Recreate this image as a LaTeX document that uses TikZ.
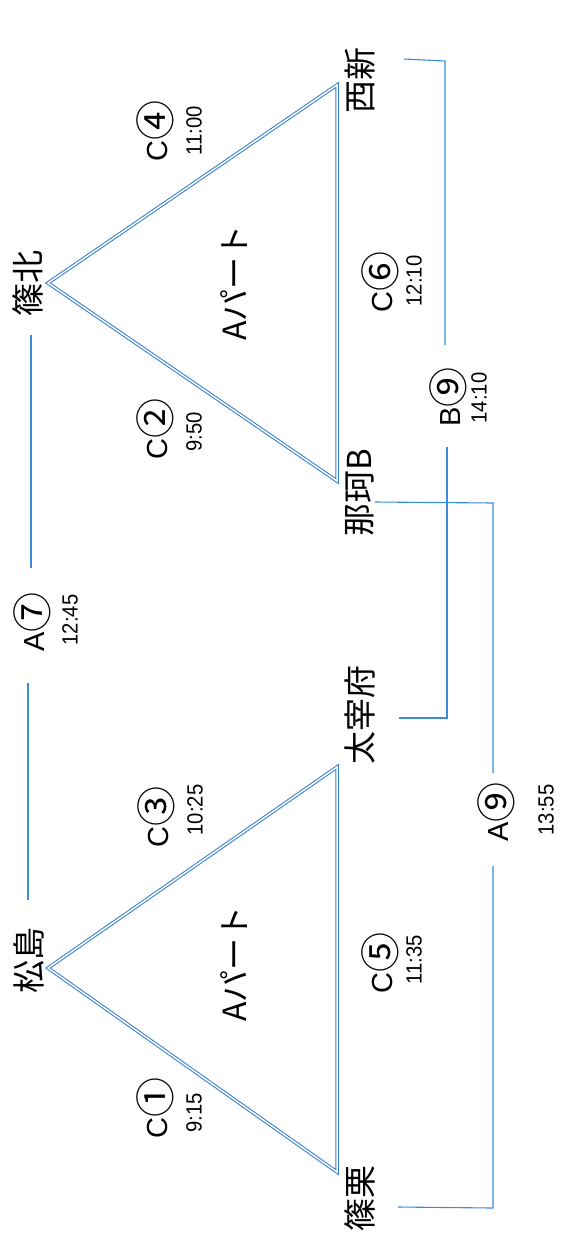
\documentclass[tikz,border=0pt]{standalone}
\usepackage{fontspec}
\setmainfont{Liberation Sans}
\newfontfamily\jp{Noto Sans CJK JP}
\definecolor{lineblue}{RGB}{58,140,220}
\definecolor{triblue}{RGB}{50,125,210}
\begin{document}
\begin{tikzpicture}[x=1pt,y=-1pt,
  stn/.style={rotate=90,inner sep=0pt,font=\jp\fontsize{33}{33}\selectfont},
  part/.style={rotate=90,inner sep=0pt,font=\jp\fontsize{32}{32}\selectfont},
  game/.style={rotate=90,inner sep=0pt,font=\fontsize{29}{29}\selectfont},
  tm/.style={rotate=90,inner sep=0pt,font=\fontsize{22}{22}\selectfont,xscale=0.92},
  tri/.style={draw=triblue,double=white,double distance=1.5pt,line width=1.0pt,line join=miter},
  brk/.style={draw=lineblue,line width=1.1pt}]
\fill[white] (0,0) rectangle (561,1243);
\useasboundingbox (0,0) rectangle (561,1243);
\newcommand{\cn}[1]{\raisebox{-0.08em}{\jp\fontsize{40}{40}\selectfont #1}}
% stations
\node[stn] (shinohoku) at (28,283) {篠北};
\node[stn] (nishijin) at (360,80) {西新};
\node[stn] (naka) at (360,493) {那珂B};
\node[stn] (matsushima) at (29,960) {松島};
\node[stn] (dazaifu) at (360,715) {太宰府};
\node[stn] (sasaguri) at (360,1198) {篠栗};
% parts
\node[part] (p1) at (234,283) {Aパート};
\node[part] (p2) at (234,964) {Aパート};
% games
\node[game] (g4) at (155,131) {C\cn{④}};
\node[tm] (t4) at (194,131) {11:00};
\node[game] (g2) at (155,429) {C\cn{②}};
\node[tm] (t2) at (194,432) {9:50};
\node[game] (g6) at (380,282) {C\cn{⑥}};
\node[tm] (t6) at (414,281) {12:10};
\node[game] (g9b) at (448,397) {B\cn{⑨}};
\node[tm] (t9b) at (479,398) {14:10};
\node[game] (g7) at (32,622) {A\cn{⑦}};
\node[tm] (t7) at (70,620) {12:45};
\node[game] (g3) at (156,817) {C\cn{③}};
\node[tm] (t3) at (195,810) {10:25};
\node[game] (g1) at (155,1108) {C\cn{①}};
\node[tm] (t1) at (194,1113) {9:15};
\node[game] (g5) at (380,963) {C\cn{⑤}};
\node[tm] (t5) at (414,960) {11:35};
\node[game] (g9a) at (496,812) {A\cn{⑨}};
\node[tm] (t9a) at (546,810) {13:55};
% triangle vertices
\coordinate (a1) at (48,283);
\coordinate (b1) at (337,85);
\coordinate (c1) at (337,481);
\coordinate (a2) at (48,968);
\coordinate (b2) at (337,767);
\coordinate (c2) at (337,1172);
\draw[tri] (a1) -- (b1) -- (c1) -- cycle;
\draw[tri] (a2) -- (b2) -- (c2) -- cycle;
% bracket end points
\coordinate (e1) at (31,335);
\coordinate (e2) at (31,568);
\coordinate (e3) at (28,683);
\coordinate (e4) at (28,900);
\draw[brk] (e1) -- (e2);
\draw[brk] (e3) -- (e4);
\coordinate (nsR) at (404,59);
\coordinate (nsC) at (445,61);
\coordinate (nsE) at (445,345);
\draw[brk] (nsR) -- (nsC) -- (nsE);
\coordinate (b9S) at (447,447);
\coordinate (b9C) at (447,718);
\coordinate (dzR) at (399,718);
\draw[brk] (b9S) -- (b9C) -- (dzR);
\coordinate (nkR) at (375,502);
\coordinate (nkC) at (493,503);
\coordinate (nkE) at (493,773);
\draw[brk] (nkR) -- (nkC) -- (nkE);
\coordinate (a9S) at (493,866);
\coordinate (a9C) at (493,1208);
\coordinate (ssR) at (398,1207);
\draw[brk] (a9S) -- (a9C) -- (ssR);
\end{tikzpicture}
\end{document}
